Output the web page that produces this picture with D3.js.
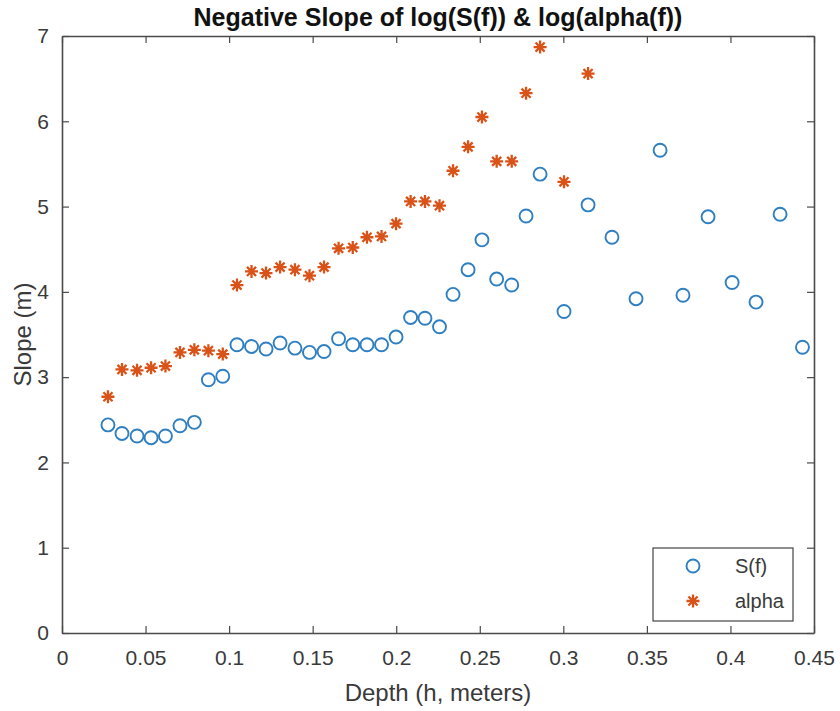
<!DOCTYPE html>
<html>
<head>
<meta charset="utf-8">
<script src="https://cdn.jsdelivr.net/npm/d3@7"></script>
<style>
  html, body { margin: 0; padding: 0; background: #fff; }
  svg { display: block; }
  text { font-family: "Liberation Sans", Arial, sans-serif; }
</style>
</head>
<body>
<svg id="chart" width="840" height="711"></svg>
<script>
// ---- data ----
const sDepth = [0.0275, 0.0359, 0.0449, 0.0533, 0.0619, 0.0706, 0.0792, 0.0876, 0.0962, 0.1047,
                0.1134, 0.1221, 0.1305, 0.1394, 0.1481, 0.1568, 0.1655, 0.1740, 0.1825, 0.1912,
                0.1999, 0.2086, 0.2172, 0.2259, 0.2340, 0.2430, 0.2513, 0.2601, 0.2691, 0.2777,
                0.2861, 0.3004, 0.3148, 0.3291, 0.3435, 0.3579, 0.3716, 0.3866, 0.4010, 0.4153,
                0.4297, 0.4431];
const sSlope = [2.44, 2.34, 2.31, 2.29, 2.31, 2.43, 2.47, 2.97, 3.01, 3.38,
                3.36, 3.33, 3.40, 3.34, 3.29, 3.30, 3.45, 3.38, 3.38, 3.38,
                3.47, 3.70, 3.69, 3.59, 3.97, 4.26, 4.61, 4.15, 4.08, 4.89,
                5.38, 3.77, 5.02, 4.64, 3.92, 5.66, 3.96, 4.88, 4.11, 3.88,
                4.91, 3.35];
const aDepth = [0.0275, 0.0359, 0.0449, 0.0533, 0.0619, 0.0706, 0.0792, 0.0876, 0.0962, 0.1047,
                0.1134, 0.1221, 0.1305, 0.1394, 0.1481, 0.1568, 0.1655, 0.1740, 0.1825, 0.1912,
                0.1999, 0.2086, 0.2172, 0.2259, 0.2340, 0.2430, 0.2513, 0.2601, 0.2691, 0.2777,
                0.2861, 0.3004, 0.3148];
const aSlope = [2.77, 3.09, 3.08, 3.11, 3.13, 3.29, 3.32, 3.31, 3.27, 4.08,
                4.24, 4.22, 4.29, 4.26, 4.19, 4.29, 4.51, 4.52, 4.64, 4.65,
                4.80, 5.06, 5.06, 5.01, 5.42, 5.70, 6.05, 5.53, 5.53, 6.33,
                6.87, 5.29, 6.56];
const xTicks = [0, 0.05, 0.1, 0.15, 0.2, 0.25, 0.3, 0.35, 0.4, 0.45];
const xTickLabels = ["0", "0.05", "0.1", "0.15", "0.2", "0.25", "0.3", "0.35", "0.4", "0.45"];
const yTicks = [0, 1, 2, 3, 4, 5, 6, 7];
const seriesNames = ["S(f)", "alpha"];
const titleText = "Negative Slope of log(S(f)) & log(alpha(f))";
const xLabelText = "Depth (h, meters)";
const yLabelText = "Slope (m)";

// ---- layout ----
const L = 62, R = 814, T = 36, B = 633;
const blue = "#2f7fc1", orange = "#d95319", axisCol = "#4a4a4a", textCol = "#3a3a3a";

const svg = d3.select("#chart");
const x = d3.scaleLinear().domain([0, 0.45]).range([L, R]);
const y = d3.scaleLinear().domain([0, 7]).range([B, T]);

// axes (ticks inward, box)
const tickLen = 7;
const gx = svg.append("g").attr("transform", `translate(0,${B})`)
  .call(d3.axisBottom(x).tickValues(xTicks).tickFormat((d, i) => xTickLabels[i])
        .tickSizeInner(-tickLen).tickSizeOuter(0).tickPadding(17));
const gxt = svg.append("g").attr("transform", `translate(0,${T})`)
  .call(d3.axisTop(x).tickValues(xTicks).tickFormat("").tickSizeInner(-tickLen).tickSizeOuter(0));
const gy = svg.append("g").attr("transform", `translate(${L},0)`)
  .call(d3.axisLeft(y).tickValues(yTicks).tickFormat(d3.format("d"))
        .tickSizeInner(-tickLen).tickSizeOuter(0).tickPadding(13));
const gyr = svg.append("g").attr("transform", `translate(${R},0)`)
  .call(d3.axisRight(y).tickValues(yTicks).tickFormat("").tickSizeInner(-tickLen).tickSizeOuter(0));

[gx, gxt, gy, gyr].forEach(g => {
  g.select(".domain").attr("stroke", axisCol).attr("stroke-width", 1.6);
  g.selectAll(".tick line").attr("stroke", axisCol).attr("stroke-width", 1.2);
  g.selectAll(".tick text").attr("fill", textCol).attr("font-size", 21)
    .attr("font-family", "Liberation Sans, Arial, sans-serif");
});

// points: S(f) circles
svg.append("g").selectAll("circle").data(sDepth.map((d, i) => [d, sSlope[i]]))
  .join("circle")
  .attr("cx", d => x(d[0])).attr("cy", d => y(d[1])).attr("r", 6.5)
  .attr("fill", "none").attr("stroke", blue).attr("stroke-width", 1.9);

// points: alpha stars
function star(g, cx, cy, s) {
  const p = d3.path();
  p.moveTo(cx - s, cy); p.lineTo(cx + s, cy);
  p.moveTo(cx, cy - s); p.lineTo(cx, cy + s);
  const k = s * 0.7;
  p.moveTo(cx - k, cy - k); p.lineTo(cx + k, cy + k);
  p.moveTo(cx - k, cy + k); p.lineTo(cx + k, cy - k);
  g.append("path").attr("d", p.toString()).attr("stroke", orange)
    .attr("stroke-width", 2.3).attr("fill", "none");
}
const gs = svg.append("g");
aDepth.forEach((d, i) => star(gs, x(d), y(aSlope[i]), 6.5));

// title & labels
svg.append("text").attr("x", (L + R) / 2).attr("y", 26).attr("text-anchor", "middle")
  .attr("font-size", 25).attr("font-weight", "bold").attr("fill", "#111").text(titleText);
svg.append("text").attr("x", (L + R) / 2).attr("y", 701).attr("text-anchor", "middle")
  .attr("font-size", 24).attr("fill", textCol).text(xLabelText);
svg.append("text").attr("transform", `translate(31,${(T + B) / 2}) rotate(-90)`)
  .attr("text-anchor", "middle").attr("font-size", 24).attr("fill", textCol).text(yLabelText);

// legend
const lg = svg.append("g");
lg.append("rect").attr("x", 653).attr("y", 548).attr("width", 140).attr("height", 73)
  .attr("fill", "#fff").attr("stroke", "#444").attr("stroke-width", 1.2);
lg.append("circle").attr("cx", 693).attr("cy", 566).attr("r", 6.5)
  .attr("fill", "none").attr("stroke", blue).attr("stroke-width", 1.9);
star(lg, 693, 601, 6.5);
lg.append("text").attr("x", 735).attr("y", 573).attr("font-size", 20).attr("fill", textCol).text(seriesNames[0]);
lg.append("text").attr("x", 735).attr("y", 608).attr("font-size", 20).attr("fill", textCol).text(seriesNames[1]);
</script>
</body>
</html>
